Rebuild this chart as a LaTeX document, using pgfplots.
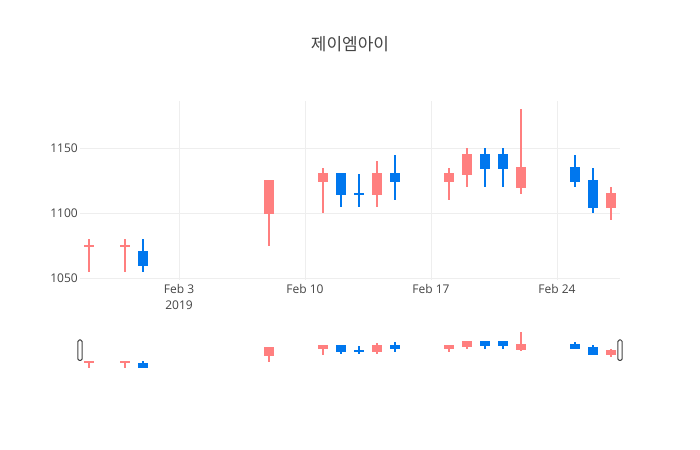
\documentclass[border=0pt]{standalone}
\usepackage{pgfplots}
\pgfplotsset{compat=1.18}
\usepackage{pgfplotstable}
\usepackage{fontspec}
\setmainfont{Open Sans}
\newfontfamily\kr{Noto Sans CJK KR}

\definecolor{txt}{HTML}{444444}
\definecolor{gridc}{HTML}{EEEEEE}
\definecolor{up}{HTML}{FF7F7F}
\definecolor{down}{HTML}{0077EE}

% day of year (Jan 1 = 1), open, high, low, close
\pgfplotstableread{
d  o    h    l    c
29 1075 1080 1055 1075
31 1075 1080 1055 1075
39 1100 1125 1075 1125
42 1125 1135 1100 1130
45 1115 1140 1105 1130
49 1125 1135 1110 1130
50 1130 1150 1120 1145
53 1120 1180 1115 1135
58 1105 1120 1095 1115
}\upcandles

\pgfplotstableread{
d  o    h    l    c
32 1070 1080 1055 1060
43 1130 1130 1105 1115
44 1115 1130 1105 1115
46 1130 1145 1110 1125
51 1145 1150 1120 1135
52 1145 1150 1120 1135
56 1135 1145 1120 1125
57 1125 1135 1100 1105
}\downcandles

% #1 table, #2 colour, #3 one pixel in y units
\newcommand\candles[3]{%
  \addplot[draw=none, mark=none,
    error bars/.cd, y dir=both, y explicit, error mark=none,
    error bar style={draw=#2, line width=2bp}]
    table[x=d, y expr=(\thisrow{h}+\thisrow{l})/2,
          y error expr=(\thisrow{h}-\thisrow{l})/2] {#1};
  \addplot[draw=none, mark=none,
    error bars/.cd, y dir=both, y explicit, error mark=none,
    error bar style={draw=#2, line width=10.7bp}]
    table[x=d, y expr=(\thisrow{o}+\thisrow{c})/2,
          y error expr=abs(\thisrow{c}-\thisrow{o})/2+#3] {#1};
}

\begin{document}
\begin{tikzpicture}
\useasboundingbox (0,0) rectangle (700bp,450bp);
\node[font=\kr\fontsize{17bp}{20bp}\selectfont, text=txt] at (350bp,406bp) {제이엠아이};

\begin{axis}[
  at={(80bp,170bp)}, anchor=south west,
  scale only axis, width=540bp, height=178.75bp,
  xmin=28.5, xmax=58.5, ymin=1048.75, ymax=1186.25,
  axis line style={draw=none}, major tick length=0pt,
  grid=major, grid style={draw=gridc, line width=1bp},
  xtick={34,41,48,55},
  xticklabels={{Feb 3\\2019},{Feb 10},{Feb 17},{Feb 24}},
  ytick={1050,1100,1150},
  /pgf/number format/assume math mode=true,
  /pgf/number format/1000 sep={},
  tick label style={font=\fontsize{12bp}{16bp}\selectfont, text=txt},
  xticklabel style={align=center, inner sep=0pt, yshift=-4bp},
  yticklabel style={inner sep=0pt, xshift=-2bp},
]
\candles{\upcandles}{up}{0.77}
\candles{\downcandles}{down}{0.77}
\end{axis}

\begin{axis}[
  at={(80bp,80bp)}, anchor=south west,
  scale only axis, width=540bp, height=40bp,
  xmin=28.5, xmax=58.5, ymin=1048.75, ymax=1186.25,
  hide axis, clip=false,
]
\candles{\upcandles}{up}{3.44}
\candles{\downcandles}{down}{3.44}
\draw[draw=txt, fill=white, line width=1bp, rounded corners=1.5bp]
  ([xshift=-2.2bp]rel axis cs:0,0.24) rectangle ([xshift=2.2bp]rel axis cs:0,0.75);
\draw[draw=txt, fill=white, line width=1bp, rounded corners=1.5bp]
  ([xshift=-2.2bp]rel axis cs:1,0.24) rectangle ([xshift=2.2bp]rel axis cs:1,0.75);
\end{axis}
\end{tikzpicture}
\end{document}
